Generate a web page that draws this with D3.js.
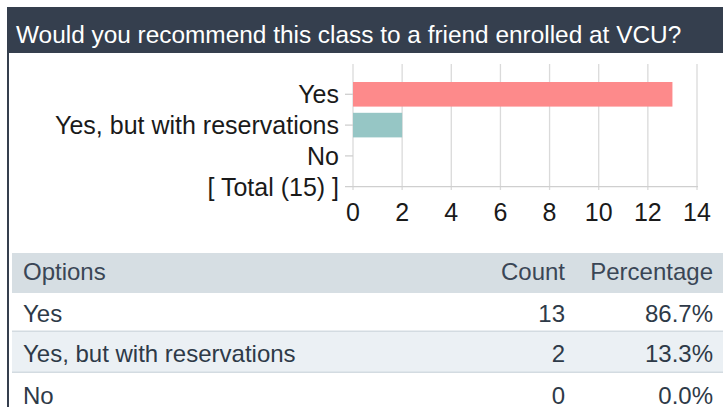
<!DOCTYPE html>
<html>
<head>
<meta charset="utf-8">
<script src="https://cdn.jsdelivr.net/npm/d3@7"></script>
<style>
  body { margin: 0; background: #fff; }
  svg { display: block; font-family: 'Liberation Sans', Arial, sans-serif; }
</style>
</head>
<body>
<script>
var title = 'Would you recommend this class to a friend enrolled at VCU?';
var categories = ['Yes', 'Yes, but with reservations', 'No', '[ Total (15) ]'];
var counts = [13, 2, 0];
var percentages = ['86.7%', '13.3%', '0.0%'];
var barColors = ['#fd8a8b', '#96c6c5', '#cccccc'];
var xTicks = [0, 2, 4, 6, 8, 10, 12, 14];
var tableHeader = ['Options', 'Count', 'Percentage'];

var width = 723, height = 407;
var dark = '#353f4e';

var svg = d3.select('body').append('svg')
  .attr('width', width)
  .attr('height', height);

// header bar + left border
svg.append('rect')
  .attr('x', 7).attr('y', 7)
  .attr('width', width - 7).attr('height', 46)
  .attr('fill', dark);
svg.append('rect')
  .attr('x', 7).attr('y', 53)
  .attr('width', 2).attr('height', height - 53)
  .attr('fill', dark);
svg.append('text')
  .attr('x', 16).attr('y', 43)
  .attr('fill', '#fff')
  .attr('font-size', 24.4)
  .text(title);

// chart
var xScale = d3.scaleLinear().domain([0, 14]).range([353, 697]);
var yScale = d3.scalePoint().domain(categories).range([94.3, 186.7]);
var barH = 24.6;

var chart = svg.append('g').attr('class', 'chart');

chart.selectAll('line.grid')
  .data(xTicks)
  .enter().append('line')
  .attr('class', 'grid')
  .attr('x1', function(d) { return xScale(d); })
  .attr('x2', function(d) { return xScale(d); })
  .attr('y1', 64).attr('y2', 190)
  .attr('stroke', '#dadada')
  .attr('stroke-width', 1.3);

chart.append('line')
  .attr('x1', 345).attr('x2', xScale(14) + 1)
  .attr('y1', yScale(categories[3])).attr('y2', yScale(categories[3]))
  .attr('stroke', '#cfcfcf')
  .attr('stroke-width', 1.3);

chart.selectAll('line.ytick')
  .data(categories.slice(0, 3))
  .enter().append('line')
  .attr('class', 'ytick')
  .attr('x1', 345).attr('x2', 353)
  .attr('y1', function(d) { return yScale(d); })
  .attr('y2', function(d) { return yScale(d); })
  .attr('stroke', '#cfcfcf')
  .attr('stroke-width', 1.3);

chart.selectAll('rect.bar')
  .data(counts)
  .enter().append('rect')
  .attr('class', 'bar')
  .attr('x', xScale(0))
  .attr('y', function(d, i) { return yScale(categories[i]) - barH / 2; })
  .attr('width', function(d) { return xScale(d) - xScale(0); })
  .attr('height', barH)
  .attr('fill', function(d, i) { return barColors[i]; });

chart.selectAll('text.ylabel')
  .data(categories)
  .enter().append('text')
  .attr('class', 'ylabel')
  .attr('x', 339)
  .attr('y', function(d) { return yScale(d); })
  .attr('dy', '0.36em')
  .attr('text-anchor', 'end')
  .attr('font-size', 25)
  .attr('fill', '#1a1a1a')
  .text(function(d) { return d; });

chart.selectAll('text.xlabel')
  .data(xTicks)
  .enter().append('text')
  .attr('class', 'xlabel')
  .attr('x', function(d) { return xScale(d); })
  .attr('y', 220.5)
  .attr('text-anchor', 'middle')
  .attr('font-size', 25)
  .attr('fill', '#1a1a1a')
  .text(function(d) { return d; });

// table
var table = svg.append('g').attr('class', 'table');
var rowTop = [253, 293, 332, 373];
var rowH = [40, 38, 40, 40];
var rowFill = ['#d6dee3', '#ffffff', '#ebf0f4', '#ffffff'];

table.selectAll('rect.row')
  .data(rowTop)
  .enter().append('rect')
  .attr('class', 'row')
  .attr('x', 12).attr('y', function(d) { return d; })
  .attr('width', width - 12)
  .attr('height', function(d, i) { return rowH[i]; })
  .attr('fill', function(d, i) { return rowFill[i]; });

table.selectAll('rect.sep')
  .data([330.5, 371.5])
  .enter().append('rect')
  .attr('class', 'sep')
  .attr('x', 12).attr('y', function(d) { return d; })
  .attr('width', width - 12).attr('height', 1.5)
  .attr('fill', '#d3dbe1');

var textBase = [280.3, 321.8, 361.8, 403.6];
var textColor = '#2e3a48';

table.append('text')
  .attr('x', 23).attr('y', textBase[0])
  .attr('font-size', 24).attr('fill', '#3a4656')
  .text(tableHeader[0]);
table.append('text')
  .attr('x', 565).attr('y', textBase[0])
  .attr('text-anchor', 'end')
  .attr('font-size', 24).attr('fill', '#3a4656')
  .text(tableHeader[1]);
table.append('text')
  .attr('x', 713).attr('y', textBase[0])
  .attr('text-anchor', 'end')
  .attr('font-size', 24).attr('fill', '#3a4656')
  .text(tableHeader[2]);

var rows = table.selectAll('g.trow')
  .data(counts)
  .enter().append('g')
  .attr('class', 'trow');

rows.append('text')
  .attr('x', 23)
  .attr('y', function(d, i) { return textBase[i + 1]; })
  .attr('font-size', 24).attr('fill', textColor)
  .text(function(d, i) { return categories[i]; });
rows.append('text')
  .attr('x', 565)
  .attr('y', function(d, i) { return textBase[i + 1]; })
  .attr('text-anchor', 'end')
  .attr('font-size', 24).attr('fill', textColor)
  .text(function(d) { return d; });
rows.append('text')
  .attr('x', 713)
  .attr('y', function(d, i) { return textBase[i + 1]; })
  .attr('text-anchor', 'end')
  .attr('font-size', 24).attr('fill', textColor)
  .text(function(d, i) { return percentages[i]; });
</script>
</body>
</html>
